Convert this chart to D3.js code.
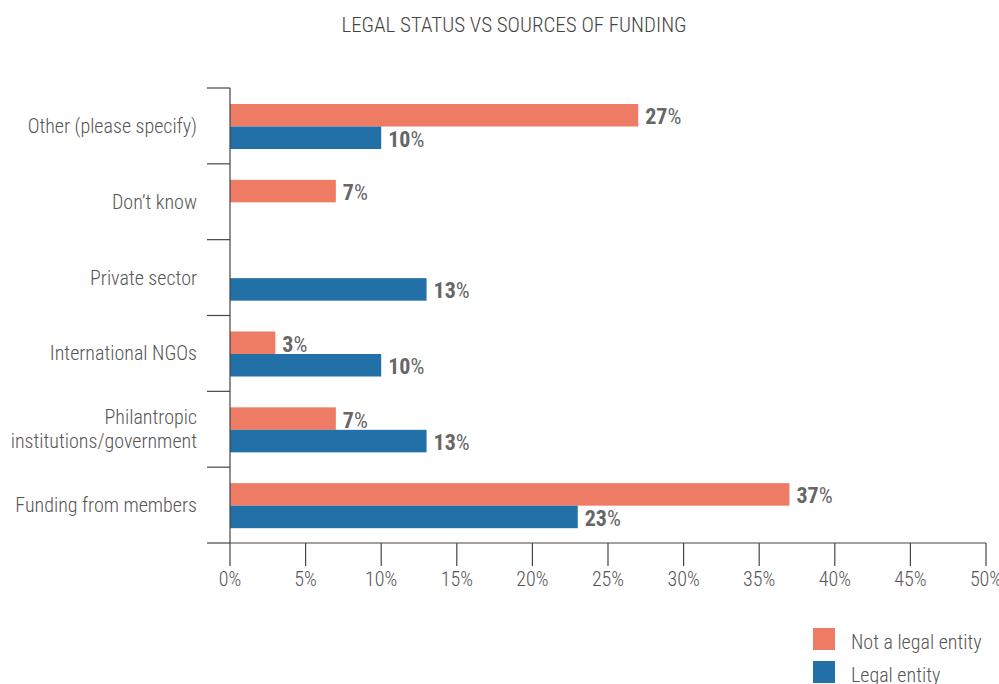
<!DOCTYPE html>
<html>
<head>
<meta charset="utf-8">
<script src="https://cdn.jsdelivr.net/npm/d3@7"></script>
<style>
  body { margin: 0; background: #fff; }
  text { font-family: "Roboto Condensed", "Liberation Sans Narrow", "DejaVu Sans Condensed", sans-serif; }
</style>
</head>
<body>
<svg></svg>
<script>
const categories = [
    'Other (please specify)',
    'Don\u2019t know',
    'Private sector',
    'International NGOs',
    'Philantropic institutions/government',
    'Funding from members'
]
const labelLines = [
    ['Other (please specify)'],
    ['Don\u2019t know'],
    ['Private sector'],
    ['International NGOs'],
    ['Philantropic', 'institutions/government'],
    ['Funding from members']
]
const series = ['Not a legal entity', 'Legal entity']
const notLegal = [27, 7, 0, 3, 7, 37]
const legal = [10, 0, 13, 10, 13, 23]
const xTicks = [0, 5, 10, 15, 20, 25, 30, 35, 40, 45, 50]
const colors = ['#ee7b64', '#2270a8']

const width = 999,
    height = 684
const margin = { top: 88, left: 230, right: 13, bottom: 141 }

const svg = d3.select('svg').attr('width', width).attr('height', height)

const rows = categories.map((c, i) => ({
    cat: c,
    lines: labelLines[i],
    values: [notLegal[i], legal[i]]
}))

const x = d3
    .scaleLinear()
    .domain([0, 50])
    .range([margin.left, width - margin.right])
const y = d3
    .scaleBand()
    .domain(categories)
    .range([margin.top, height - margin.bottom])
const y1 = d3.scaleBand().domain(series).range([16, 61])

// title
svg.append('text')
    .attr('x', 514)
    .attr('y', 32)
    .attr('text-anchor', 'middle')
    .attr('font-size', 21)
    .attr('font-weight', 300)
    .attr('fill', '#444')
    .text('LEGAL STATUS VS SOURCES OF FUNDING')

// bars
const g = svg
    .append('g')
    .selectAll('g')
    .data(rows)
    .join('g')
    .attr('transform', (d) => `translate(0,${y(d.cat)})`)

const bars = g
    .selectAll('g')
    .data((d) => d.values.map((v, i) => ({ v, s: series[i], i })))
    .join('g')
    .filter((d) => d.v > 0)

bars.append('rect')
    .attr('x', x(0))
    .attr('y', (d) => y1(d.s))
    .attr('width', (d) => x(d.v) - x(0))
    .attr('height', y1.bandwidth())
    .attr('fill', (d) => colors[d.i])

const lbl = bars
    .append('text')
    .attr('x', (d) => x(d.v) + 7)
    .attr('y', (d) => y1(d.s) + y1.bandwidth() / 2 + 9)
    .attr('font-size', 22)
    .attr('fill', '#666')
lbl.append('tspan').attr('font-weight', 700).text((d) => d.v)
lbl.append('tspan').attr('font-weight', 400).text('%')

// y axis: line plus band boundary ticks
const axis = svg.append('g').attr('stroke', '#444').attr('stroke-width', 1.2)
axis.append('line')
    .attr('x1', x(0))
    .attr('x2', x(0))
    .attr('y1', y.range()[0])
    .attr('y2', y.range()[1])
const bounds = categories.map((c) => y(c)).concat([y.range()[1]])
axis.selectAll('.yt')
    .data(bounds)
    .join('line')
    .attr('x1', x(0) - 23)
    .attr('x2', x(0))
    .attr('y1', (d) => d)
    .attr('y2', (d) => d)

// x axis
const xb = y.range()[1]
axis.append('line')
    .attr('x1', x(0))
    .attr('x2', x(50))
    .attr('y1', xb)
    .attr('y2', xb)
axis.selectAll('.xt')
    .data(xTicks)
    .join('line')
    .attr('x1', (d) => x(d))
    .attr('x2', (d) => x(d))
    .attr('y1', xb)
    .attr('y2', xb + 23)

svg.append('g')
    .selectAll('text')
    .data(xTicks)
    .join('text')
    .attr('x', (d) => x(d))
    .attr('y', xb + 43)
    .attr('text-anchor', 'middle')
    .attr('font-size', 20)
    .attr('font-weight', 300)
    .attr('fill', '#555')
    .text((d) => d + '%')

// category labels
const cl = svg
    .append('g')
    .selectAll('text')
    .data(rows)
    .join('text')
    .attr('text-anchor', 'end')
    .attr('font-size', 20)
    .attr('font-weight', 300)
    .attr('fill', '#555')
cl.selectAll('tspan')
    .data((d) =>
        d.lines.map((t, j) => ({
            t,
            yy: y(d.cat) + y.bandwidth() / 2 + 7 + (j - (d.lines.length - 1) / 2) * 24
        }))
    )
    .join('tspan')
    .attr('x', 197)
    .attr('y', (d) => d.yy)
    .text((d) => d.t)

// legend
const lg = svg
    .append('g')
    .selectAll('g')
    .data(series)
    .join('g')
    .attr('transform', (d, i) => `translate(813,${628 + i * 33})`)
lg.append('rect')
    .attr('width', 22)
    .attr('height', 22)
    .attr('fill', (d, i) => colors[i])
lg.append('text')
    .attr('x', 38)
    .attr('y', 21)
    .attr('font-size', 20)
    .attr('font-weight', 300)
    .attr('fill', '#555')
    .text((d) => d)
</script>
</body>
</html>
